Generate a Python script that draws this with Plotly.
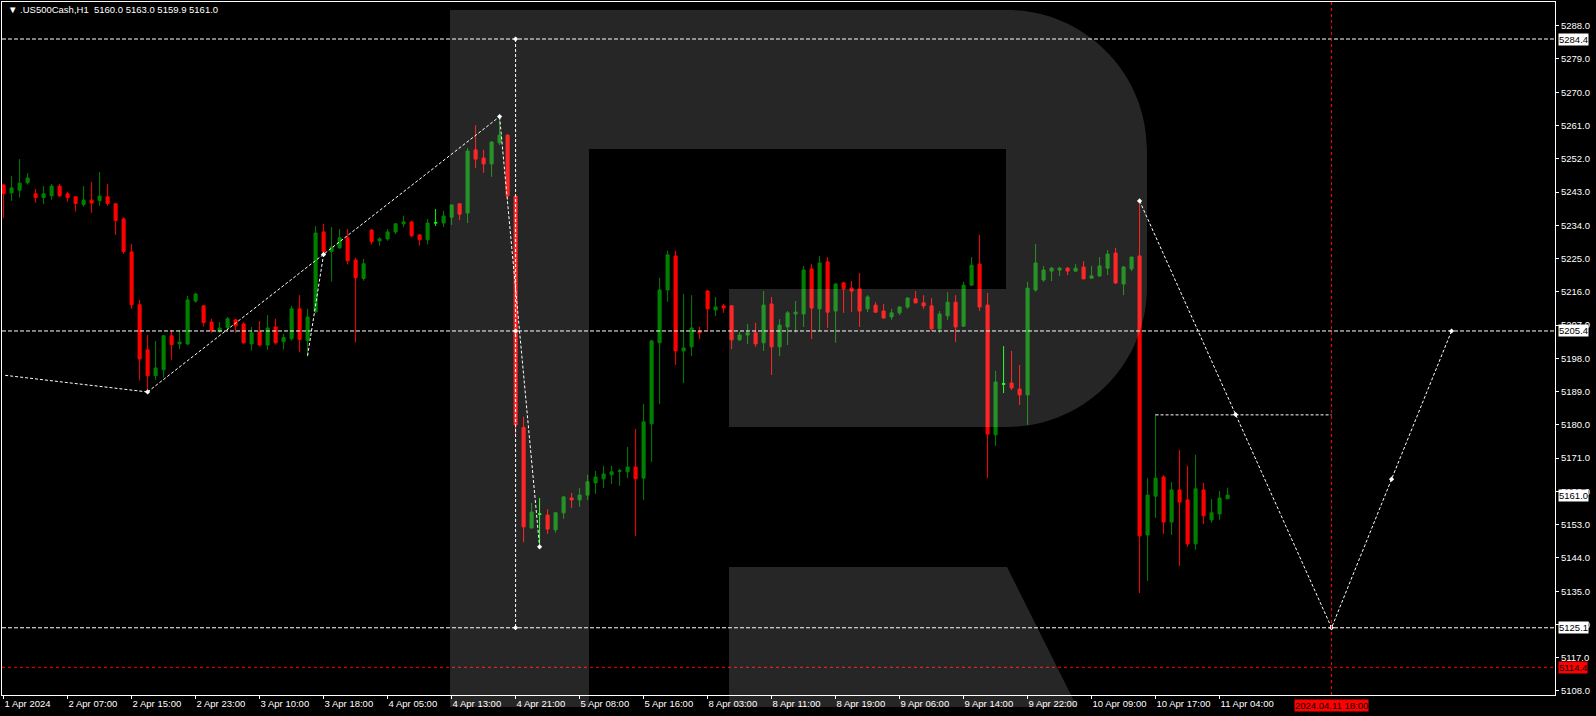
import plotly.graph_objects as go

# ---------------- data ----------------
time_labels = ["1 Apr 2024", "2 Apr 07:00", "2 Apr 15:00", "2 Apr 23:00", "3 Apr 10:00",
               "3 Apr 18:00", "4 Apr 05:00", "4 Apr 13:00", "4 Apr 21:00", "5 Apr 08:00",
               "5 Apr 16:00", "8 Apr 03:00", "8 Apr 11:00", "8 Apr 19:00", "9 Apr 06:00",
               "9 Apr 14:00", "9 Apr 22:00", "10 Apr 09:00", "10 Apr 17:00", "11 Apr 04:00"]
time_label_bars = [0, 8, 16, 24, 32, 40, 48, 56, 64, 72, 80, 88, 96, 104, 112, 120, 128, 136, 144, 152]

open_ = [5244.9, 5242.8, 5243.5, 5245.5, 5242.5, 5241.5, 5242.0, 5244.6, 5242.5, 5241.7,
         5239.6, 5240.8, 5240.7, 5241.7, 5239.8, 5235.7, 5226.8, 5212.5, 5200.3, 5193.3,
         5194.9, 5204.1, 5201.9, 5201.9, 5213.5, 5212.2, 5207.8, 5205.2, 5206.3, 5208.4,
         5207.3, 5201.9, 5205.2, 5201.6, 5206.5, 5202.5, 5203.3, 5211.4, 5202.8, 5210.6,
         5232.2, 5226.9, 5227.9, 5230.6, 5224.6, 5219.6, 5232.7, 5229.8, 5230.3, 5232.2,
         5234.4, 5234.9, 5231.4, 5230.1, 5234.6, 5234.6, 5236.2, 5239.8, 5237.3, 5254.4,
         5252.2, 5250.6, 5256.3, 5258.4, 5241.9, 5179.3, 5152.1, 5155.8, 5155.6, 5151.6,
         5156.2, 5160.2, 5159.7, 5161.0, 5164.3, 5165.4, 5166.5, 5167.4, 5167.3, 5168.6,
         5165.6, 5180.3, 5202.2, 5216.5, 5225.7, 5200.0, 5201.1, 5205.3, 5216.2, 5211.1,
         5212.2, 5212.2, 5203.0, 5204.3, 5204.9, 5202.2, 5212.7, 5201.1, 5206.5, 5210.0,
         5210.0, 5222.2, 5211.4, 5224.1, 5210.8, 5218.4, 5217.0, 5216.8, 5211.4, 5212.4,
         5210.8, 5209.2, 5210.3, 5211.9, 5214.1, 5213.0, 5212.2, 5206.0, 5209.5, 5213.2,
         5206.7, 5217.8, 5223.5, 5212.4, 5177.3, 5191.0, 5191.3, 5189.7, 5188.1, 5216.5,
         5219.2, 5221.6, 5221.9, 5222.4, 5221.6, 5222.7, 5219.7, 5220.3, 5222.4, 5226.5,
         5218.1, 5222.2, 5225.7, 5150.2, 5160.7, 5165.9, 5153.7, 5162.4, 5159.7, 5147.8,
         5162.4, 5154.3, 5155.9, 5160.0]
high = [5245.2, 5247.3, 5251.9, 5248.1, 5243.8, 5244.6, 5245.2, 5245.2, 5243.1, 5241.8,
        5244.6, 5245.7, 5248.4, 5245.2, 5239.9, 5236.2, 5228.9, 5213.8, 5204.3, 5202.7,
        5204.3, 5205.7, 5205.7, 5214.9, 5215.7, 5212.3, 5208.7, 5207.8, 5209.2, 5208.7,
        5207.8, 5206.5, 5208.1, 5209.7, 5208.7, 5204.6, 5212.2, 5215.1, 5211.4, 5233.8,
        5234.4, 5233.5, 5233.0, 5233.0, 5225.2, 5224.9, 5233.0, 5230.8, 5233.0, 5234.5,
        5236.5, 5235.2, 5231.6, 5235.7, 5238.4, 5237.9, 5239.6, 5239.9, 5254.9, 5261.1,
        5254.4, 5256.8, 5263.6, 5258.6, 5242.0, 5182.2, 5158.9, 5160.2, 5157.2, 5156.4,
        5160.8, 5161.6, 5162.9, 5166.5, 5167.5, 5168.9, 5168.9, 5168.1, 5174.0, 5178.9,
        5185.6, 5203.0, 5219.8, 5227.1, 5227.1, 5215.4, 5215.1, 5206.5, 5216.5, 5214.6,
        5212.7, 5212.3, 5205.1, 5207.3, 5207.6, 5216.2, 5214.6, 5208.6, 5210.8, 5213.5,
        5223.0, 5223.5, 5225.7, 5225.4, 5218.4, 5218.7, 5218.9, 5221.1, 5215.1, 5213.2,
        5212.7, 5211.4, 5212.0, 5214.6, 5216.2, 5215.1, 5214.3, 5210.8, 5215.9, 5215.1,
        5218.7, 5225.4, 5231.4, 5215.7, 5194.6, 5201.3, 5200.0, 5196.2, 5218.7, 5228.9,
        5223.0, 5222.7, 5222.7, 5222.7, 5223.5, 5224.3, 5223.0, 5225.4, 5227.3, 5227.9,
        5223.0, 5225.5, 5240.4, 5165.6, 5183.0, 5166.4, 5164.5, 5173.2, 5168.9, 5171.9,
        5164.3, 5159.9, 5162.1, 5163.0]
low = [5236.0, 5240.6, 5241.5, 5245.0, 5240.1, 5239.8, 5240.9, 5241.6, 5240.4, 5237.7,
       5239.0, 5237.4, 5239.3, 5239.3, 5231.4, 5226.3, 5211.4, 5192.0, 5189.0, 5192.2,
       5192.8, 5197.6, 5200.5, 5201.6, 5213.0, 5206.6, 5204.9, 5205.0, 5205.9, 5204.9,
       5201.9, 5200.1, 5201.2, 5200.3, 5201.7, 5200.4, 5202.8, 5199.6, 5198.5, 5210.2,
       5225.5, 5218.8, 5227.6, 5223.4, 5202.3, 5219.0, 5228.8, 5228.5, 5229.8, 5231.6,
       5233.5, 5230.8, 5228.5, 5228.8, 5233.8, 5233.5, 5234.1, 5235.4, 5234.6, 5249.5,
       5248.2, 5247.1, 5255.7, 5240.8, 5177.5, 5148.2, 5152.0, 5147.5, 5150.5, 5150.8,
       5154.6, 5157.5, 5157.8, 5159.7, 5161.3, 5162.9, 5164.0, 5163.5, 5165.6, 5149.9,
       5159.7, 5170.0, 5185.6, 5213.3, 5196.2, 5191.3, 5198.6, 5203.2, 5205.7, 5209.5,
       5210.3, 5200.5, 5202.7, 5201.9, 5201.1, 5200.0, 5193.5, 5198.6, 5201.6, 5204.9,
       5206.5, 5203.2, 5205.4, 5206.2, 5202.2, 5210.3, 5210.5, 5206.5, 5210.5, 5210.3,
       5208.8, 5208.4, 5209.7, 5211.4, 5212.9, 5211.4, 5205.4, 5204.9, 5208.4, 5202.4,
       5206.5, 5217.7, 5210.8, 5165.6, 5174.3, 5188.6, 5189.4, 5185.4, 5180.0, 5216.0,
       5218.7, 5218.9, 5220.3, 5220.5, 5221.4, 5219.4, 5219.5, 5220.0, 5220.5, 5218.1,
       5215.1, 5221.6, 5134.5, 5137.8, 5154.8, 5150.5, 5150.2, 5141.8, 5147.0, 5146.2,
       5153.2, 5153.5, 5154.3, 5159.9]
close = [5242.6, 5244.1, 5245.4, 5246.8, 5241.5, 5242.5, 5244.6, 5242.0, 5241.5, 5239.9,
         5240.8, 5240.0, 5241.9, 5239.9, 5235.3, 5226.9, 5212.5, 5197.8, 5193.3, 5195.4,
         5204.1, 5201.7, 5202.4, 5213.8, 5215.4, 5207.7, 5205.4, 5206.2, 5208.7, 5206.8,
         5202.2, 5204.9, 5201.6, 5206.2, 5202.2, 5203.6, 5211.4, 5203.1, 5209.2, 5231.9,
         5226.9, 5228.1, 5230.6, 5224.4, 5219.8, 5223.6, 5229.6, 5230.3, 5232.2, 5234.4,
         5234.9, 5231.2, 5230.1, 5234.6, 5234.7, 5236.5, 5239.5, 5237.0, 5254.1, 5251.9,
         5250.6, 5256.5, 5258.4, 5242.0, 5180.0, 5152.4, 5156.4, 5155.9, 5151.8, 5156.2,
         5160.5, 5159.7, 5161.0, 5164.6, 5165.9, 5166.7, 5167.3, 5167.6, 5168.6, 5165.4,
         5180.8, 5202.7, 5216.5, 5226.0, 5200.0, 5200.8, 5206.2, 5204.9, 5211.4, 5211.9,
         5211.6, 5203.0, 5204.3, 5204.9, 5201.9, 5212.4, 5201.1, 5207.0, 5210.3, 5210.5,
         5221.9, 5211.6, 5223.8, 5210.5, 5218.1, 5216.8, 5216.2, 5210.8, 5214.6, 5210.5,
         5208.9, 5210.3, 5211.9, 5214.3, 5213.0, 5212.2, 5206.0, 5210.0, 5213.2, 5206.5,
         5217.8, 5223.2, 5211.9, 5177.5, 5191.6, 5191.1, 5190.0, 5188.1, 5217.0, 5223.8,
         5221.9, 5222.4, 5222.4, 5221.6, 5222.4, 5219.5, 5220.3, 5223.0, 5226.2, 5218.4,
         5222.7, 5225.4, 5150.0, 5161.0, 5165.6, 5153.7, 5162.4, 5159.1, 5147.8, 5162.7,
         5155.4, 5156.2, 5160.2, 5161.0]
doji_bars = [54, 67, 125]

price_tick_values = [5288, 5279, 5270, 5261, 5252, 5243, 5234, 5225, 5216, 5207, 5198,
                     5189, 5180, 5171, 5162, 5153, 5144, 5135, 5126, 5117, 5108]

level_lines = [5284.4, 5205.4, 5125.1]
ask_level = 5114.4
bid_level = 5161.0
forecast_bar = 166
forecast_label = "2024.04.11 18:00"
target_box_level = 5182.7
target_box_start = 144

# analysis (wave) lines: [bar, price] points
wave_left_x = [0.2, 18]
wave_left_y = [5193.4, 5188.9]
wave_up_x = [18, 40, 62]
wave_up_y = [5188.9, 5226.1, 5263.4]
wave_corr_x = [38, 40]
wave_corr_y = [5198.7, 5226.1]
wave_drop_x = [62, 67]
wave_drop_y = [5263.4, 5147.0]
wave_vert_x = [64, 64, 64]
wave_vert_y = [5284.4, 5205.4, 5125.1]
forecast_x = [142, 154, 166, 173.5, 181]
forecast_y = [5240.6, 5182.8, 5125.1, 5165.3, 5205.4]

header = "\u25BC .US500Cash,H1\u00a0\u00a05160.0 5163.0 5159.9 5161.0"

# ---------------- figure ----------------
W, H = 1596, 716
ML, MR, MT, MB = 2, 41, 2, 21
PW, PH = W - ML - MR, H - MT - MB
FONT = "Liberation Sans, Arial, sans-serif"

bars = list(range(len(open_)))
normal = [i for i in bars if i not in doji_bars]

fig = go.Figure()
fig.add_trace(go.Candlestick(
    x=normal,
    open=[open_[i] for i in normal], high=[high[i] for i in normal],
    low=[low[i] for i in normal], close=[close[i] for i in normal],
    increasing=dict(line=dict(color="#008000", width=1), fillcolor="#008000"),
    decreasing=dict(line=dict(color="#ff0000", width=1), fillcolor="#ff0000"),
    whiskerwidth=0, hoverinfo="skip", showlegend=False))
fig.add_trace(go.Candlestick(
    x=doji_bars,
    open=[open_[i] for i in doji_bars], high=[high[i] for i in doji_bars],
    low=[low[i] for i in doji_bars], close=[close[i] for i in doji_bars],
    increasing=dict(line=dict(color="#00ff00", width=1), fillcolor="#00ff00"),
    decreasing=dict(line=dict(color="#00ff00", width=1), fillcolor="#00ff00"),
    whiskerwidth=0, hoverinfo="skip", showlegend=False))

dline = dict(color="white", width=1, dash="3px,2px")
for xs, ys in [(wave_left_x, wave_left_y), (wave_up_x, wave_up_y), (wave_corr_x, wave_corr_y),
               (wave_drop_x, wave_drop_y), (wave_vert_x, wave_vert_y), (forecast_x, forecast_y)]:
    fig.add_trace(go.Scatter(x=xs, y=ys, mode="lines", line=dline, hoverinfo="skip",
                             showlegend=False))

mk_x = wave_up_x + wave_drop_x[1:] + wave_vert_x + forecast_x
mk_y = wave_up_y + wave_drop_y[1:] + wave_vert_y + forecast_y
fig.add_trace(go.Scatter(x=mk_x, y=mk_y, mode="markers",
                         marker=dict(symbol="diamond", size=4, color="white"),
                         hoverinfo="skip", showlegend=False))

# horizontal levels
for lv in level_lines:
    fig.add_shape(type="line", xref="paper", x0=0, x1=1, yref="y", y0=lv, y1=lv,
                  line=dict(color="white", width=1, dash="4px,2px"))
fig.add_shape(type="line", xref="paper", x0=0, x1=1, yref="y", y0=ask_level, y1=ask_level,
              line=dict(color="#ff0000", width=1, dash="3px,3px"))
fig.add_shape(type="line", xref="x", x0=forecast_bar, x1=forecast_bar, yref="paper", y0=0, y1=1,
              line=dict(color="#ff0000", width=1, dash="3px,3px"))
fig.add_shape(type="line", xref="x", x0=target_box_start, x1=forecast_bar, yref="y",
              y0=target_box_level, y1=target_box_level,
              line=dict(color="white", width=1, dash="3px,2px"))


# background logo (semi-transparent white overlay), in window pixels -> paper
def px(x, y):
    return f"{(x - ML) / PW:.5f},{(H - MB - y) / PH:.5f}"


r = 140
k = 0.5523 * r
logo_main = ("M " + px(450, 10) + " L " + px(1007, 10) +
             " C " + px(1007 + k, 10) + " " + px(1147, 150 - k) + " " + px(1147, 150) +
             " L " + px(1147, 287) +
             " C " + px(1147, 287 + k) + " " + px(1007 + k, 427) + " " + px(1007, 427) +
             " L " + px(729, 427) + " L " + px(729, 289) + " L " + px(1006, 289) +
             " L " + px(1006, 149) + " L " + px(589, 149) + " L " + px(589, 707) +
             " L " + px(450, 707) + " Z")
logo_leg = ("M " + px(729, 567) + " L " + px(1007, 567) + " L " + px(1077, 707) +
            " L " + px(729, 707) + " Z")
for p in (logo_main, logo_leg):
    fig.add_shape(type="path", xref="paper", yref="paper", path=p,
                  fillcolor="rgba(255,255,255,0.15)", line=dict(width=0), layer="above")

# price boxes on the right axis
for lv, bg in [(level_lines[0], "white"), (level_lines[1], "white"), (bid_level, "white"),
               (level_lines[2], "white"), (ask_level, "#ff0000")]:
    fig.add_annotation(xref="paper", x=1, xanchor="left", xshift=3, yref="y", y=lv,
                       yanchor="middle", text=f"{lv:.1f}", showarrow=False, bgcolor=bg,
                       borderpad=0, font=dict(family=FONT, size=9.5, color="black"))

fig.add_annotation(xref="x", x=forecast_bar, xanchor="center", yref="paper",
                   y=-(705 - (H - MB)) / PH, yanchor="middle", text=forecast_label,
                   showarrow=False, bgcolor="#ff0000", borderpad=0,
                   font=dict(family=FONT, size=9.5, color="black"))

fig.add_annotation(xref="paper", x=(6 - ML) / PW, xanchor="left", yref="paper",
                   y=(H - MB - 10) / PH, yanchor="middle", text=header, showarrow=False,
                   font=dict(family=FONT, size=9.5, color="white"))

fig.update_layout(
    width=W, height=H, autosize=False,
    margin=dict(l=ML, r=MR, t=MT, b=MB, pad=0),
    paper_bgcolor="black", plot_bgcolor="black",
    boxgap=0.45, boxmode="overlay",
    showlegend=False,
    font=dict(family=FONT, size=9.5, color="white"),
    xaxis=dict(range=[-0.2, 193.93], type="linear", rangeslider=dict(visible=False),
               tickvals=time_label_bars, ticktext=time_labels, ticks="outside", ticklen=3,
               tickcolor="white", ticklabelposition="outside right",
               showline=True, linecolor="white", linewidth=1, mirror=True,
               showgrid=False, zeroline=False,
               tickfont=dict(family=FONT, size=9.5, color="white")),
    yaxis=dict(range=[5106.91, 5294.41], side="right",
               tickvals=price_tick_values, ticktext=[f"{v:.1f}" for v in price_tick_values],
               ticks="outside", ticklen=3, tickcolor="white",
               showline=True, linecolor="white", linewidth=1, mirror=True,
               showgrid=False, zeroline=False,
               tickfont=dict(family=FONT, size=9.5, color="white")),
)

fig.write_html("out.html", config={"displayModeBar": False},
               post_script="document.body.style.margin='0';")
